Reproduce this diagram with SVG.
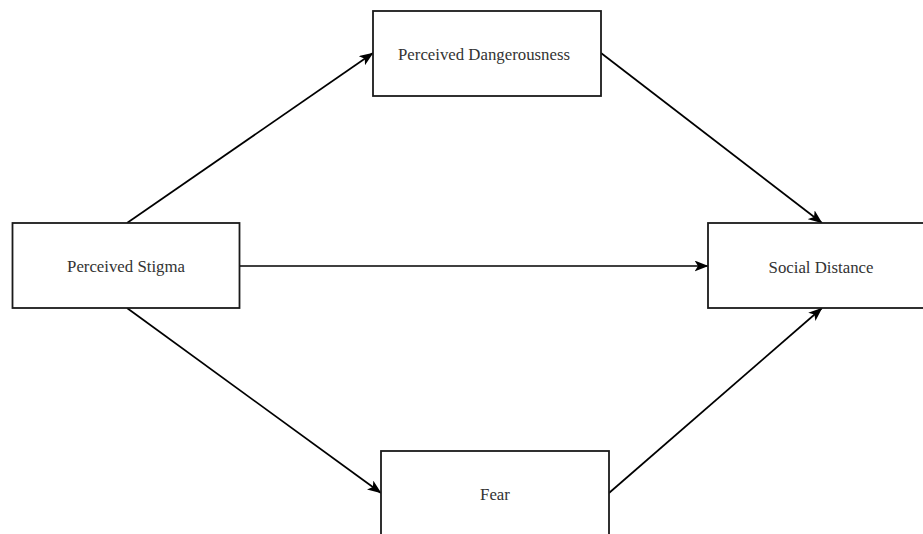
<svg xmlns="http://www.w3.org/2000/svg" width="923" height="534" viewBox="0 0 923 534">
<style>
.box{fill:#fff;stroke:#1a1a1a;stroke-width:1.8}
.lbl{font-family:"Liberation Serif","Times New Roman",serif;font-size:16.8px;fill:#333;text-anchor:middle}
.edge{stroke:#000;stroke-width:1.7;fill:none;marker-end:url(#ah)}
</style>
<defs>
<marker id="ah" viewBox="0 0 14 11" refX="13.5" refY="5.5" markerWidth="14" markerHeight="11" markerUnits="userSpaceOnUse" orient="auto">
<path d="M0,0 L14,5.5 L0,11 L3.5,5.5 Z" fill="#000"/>
</marker>
</defs>
<rect width="923" height="534" fill="#fff"/>
<g id="connectors">
<line class="edge" x1="127" y1="223" x2="373" y2="53"/>
<line class="edge" x1="601" y1="53" x2="822" y2="223"/>
<line class="edge" x1="239" y1="266" x2="708" y2="266"/>
<line class="edge" x1="127" y1="308" x2="381" y2="493"/>
<line class="edge" x1="609" y1="493" x2="822" y2="308"/>
</g>
<g id="dangerousness">
<rect class="box" x="373" y="11" width="228" height="85"/>
<text class="lbl" x="484" y="59.5">Perceived Dangerousness</text>
</g>
<g id="stigma">
<rect class="box" x="12.5" y="223" width="227" height="85"/>
<text class="lbl" x="126" y="272">Perceived Stigma</text>
</g>
<g id="social">
<rect class="box" x="708" y="223" width="228" height="85"/>
<text class="lbl" x="821" y="273">Social Distance</text>
</g>
<g id="fear">
<rect class="box" x="381" y="451" width="228" height="85"/>
<text class="lbl" x="495" y="500">Fear</text>
</g>
</svg>
